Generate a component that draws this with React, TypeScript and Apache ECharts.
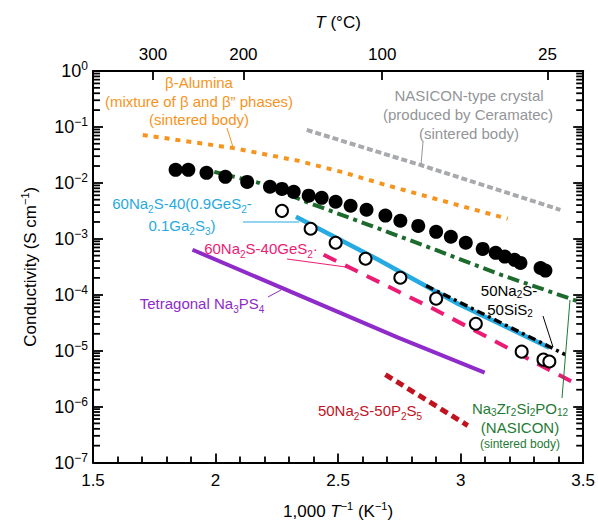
import React, { useEffect, useRef } from 'react';
import * as echarts from 'echarts';

const FONT = '"Liberation Sans", Arial, Helvetica, sans-serif';

const filledX = [1.837, 1.889, 1.963, 2.04, 2.129, 2.222, 2.271, 2.319, 2.38, 2.433, 2.49, 2.551, 2.616, 2.693, 2.754, 2.827, 2.9, 2.96, 3.021, 3.09, 3.143, 3.18, 3.22, 3.244, 3.326, 3.346];
const filledY = [1.71e-2, 1.71e-2, 1.51e-2, 1.28e-2, 1.04e-2, 8.5e-3, 7.8e-3, 6.9e-3, 5.9e-3, 5.4e-3, 4.6e-3, 3.9e-3, 3.3e-3, 2.6e-3, 2.1e-3, 1.7e-3, 1.33e-3, 1.09e-3, 8.5e-4, 6.6e-4, 5.6e-4, 4.8e-4, 4.2e-4, 3.7e-4, 3.0e-4, 2.7e-4];

const openX = [2.271, 2.388, 2.49, 2.612, 2.754, 2.9, 3.062, 3.249, 3.338, 3.362];
const openY = [3.16e-3, 1.51e-3, 8.5e-4, 4.4e-4, 2.01e-4, 8.5e-5, 3.03e-5, 9.6e-6, 6.9e-6, 6.4e-6];

const gaX = [2.328, 2.664, 2.989, 3.362];
const gaY = [2.47e-3, 4.22e-4, 6.9e-5, 1.13e-5];

const sisX = [2.859, 3.427];
const sisY = [1.45e-4, 8.5e-6];

const gesX = [2.441, 2.896, 3.476];
const gesY = [5.18e-4, 5.4e-5, 2.47e-6];

const psX = [1.906, 2.745, 3.098];
const psY = [6.37e-4, 1.71e-5, 4.05e-6];

const p2s5X = [2.693, 3.029];
const p2s5Y = [3.72e-6, 4.58e-7];

const aluX = [1.703, 2.068, 2.34, 2.514, 2.693, 3.058, 3.192];
const aluY = [0.0719, 0.0422, 0.0247, 0.0157, 0.0092, 0.0033, 0.00228];

const ceraX = [2.372, 2.835, 3.407];
const ceraY = [0.0883, 0.0209, 0.0033];

const nasX = [1.995, 2.177, 2.38, 2.624, 2.896, 3.163, 3.484];
const nasY = [0.0157, 0.01, 0.0044, 0.00178, 6.37e-4, 2.28e-4, 7.5e-5];

const xTicks = [1.5, 2, 2.5, 3, 3.5];
const tempTicks = [300, 200, 100, 25];
const yExponents = [-7, -6, -5, -4, -3, -2, -1, 0];
const minorMultipliers = [2, 3, 4, 5, 6, 7, 8, 9];

const zip = (xs: number[], ys: number[]) => xs.map((x, i) => [x, ys[i]]);

const C = {
  orange: '#F7941D',
  gray: '#A7A9AC',
  grayText: '#939598',
  cyan: '#27AAE1',
  magenta: '#EC1C74',
  purple: '#8E2BC9',
  darkred: '#C1121F',
  green: '#1D6B2C',
  greenText: '#1F7A35',
};

function sub(color: string, lh = 22) {
  return {
    n: { fontSize: 15, fontFamily: FONT, color, lineHeight: lh },
    s: { fontSize: 10, fontFamily: FONT, color, verticalAlign: 'bottom', lineHeight: 11 },
  };
}

function txt(text: string, x: number, y: number, color: string, lh = 22) {
  return {
    type: 'text',
    x,
    y,
    style: {
      text,
      fill: color,
      font: `15px ${FONT}`,
      align: 'center',
      verticalAlign: 'middle',
      rich: sub(color, lh),
    },
    z: 100,
  };
}

function lead(x1: number, y1: number, x2: number, y2: number, color: string) {
  return {
    type: 'line',
    shape: { x1, y1, x2, y2 },
    style: { stroke: color, lineWidth: 1 },
    z: 100,
  };
}

function lineSeries(data: any[], color: string, width: number, type: any, z = 2) {
  return {
    type: 'line',
    data,
    showSymbol: false,
    symbol: 'none',
    smooth: false,
    z,
    lineStyle: { color, width, type, cap: 'butt' },
  };
}

const minorVals: number[] = [];
for (const e of yExponents) {
  if (e >= 0) continue;
  for (const k of minorMultipliers) minorVals.push(k * Math.pow(10, e));
}

// minor tick marks for the log axes: 7 px long, drawn just inside each vertical edge
const TICK_HALF = 0.0142; // 3.5 px in x data units
function tickSeries(xCenter: number) {
  return {
    type: 'scatter',
    data: minorVals.map((v) => [xCenter, v]),
    symbol: 'rect',
    symbolSize: [7, 1.8],
    clip: false,
    silent: true,
    z: 20,
    itemStyle: { color: '#000', opacity: 1 },
  };
}

export default function App() {
  const ref = useRef<HTMLDivElement>(null);
  useEffect(() => {
    const chart = echarts.init(ref.current!, null, { renderer: 'svg' });
    const tempPos = tempTicks.map((t) => 1000 / (t + 273.15));
    const supText = (e: number) => (e < 0 ? '−' + String(-e) : String(e));
    const option: any = {
      animation: false,
      backgroundColor: '#fff',
      grid: { left: 93, right: 12, top: 71, bottom: 62, containLabel: false },
      xAxis: [
        {
          type: 'value',
          min: 1.5,
          max: 3.5,
          interval: 0.5,
          position: 'bottom',
          axisLine: { show: true, onZero: false, lineStyle: { color: '#000', width: 2 } },
          axisTick: { show: true, inside: true, length: 9, lineStyle: { color: '#000', width: 1.8 } },
          minorTick: { show: true, splitNumber: 5, length: 6, lineStyle: { color: '#000', width: 1.8 } },
          splitLine: { show: false },
          axisLabel: {
            margin: 9,
            fontSize: 17,
            fontFamily: FONT,
            color: '#000',
            formatter: (v: number) => (xTicks.includes(v) ? String(v) : ''),
          },
          name: '{n|1,000 }{i|T}{sup|−1}{n| (K}{sup|−1}{n|)}',
          nameLocation: 'middle',
          nameGap: 38,
          nameTextStyle: {
            rich: {
              n: { fontSize: 17, fontFamily: FONT, color: '#000', lineHeight: 22 },
              i: { fontSize: 17, fontFamily: FONT, fontStyle: 'italic', color: '#000', lineHeight: 22 },
              sup: { fontSize: 11, fontFamily: FONT, color: '#000', verticalAlign: 'top', lineHeight: 12 },
            },
          },
        },
        {
          type: 'value',
          min: 1.5,
          max: 3.5,
          position: 'top',
          axisLine: { show: true, onZero: false, lineStyle: { color: '#000', width: 2 } },
          axisTick: { show: true, inside: true, length: 9, customValues: tempPos, lineStyle: { color: '#000', width: 1.8 } },
          splitLine: { show: false },
          axisLabel: {
            customValues: tempPos,
            margin: 8,
            fontSize: 17,
            fontFamily: FONT,
            color: '#000',
            formatter: (v: number) => String(Math.round(1000 / v - 273.15)),
          },
          name: '{i|T}{n| (°C)}',
          nameLocation: 'middle',
          nameGap: 40,
          nameTextStyle: {
            rich: {
              n: { fontSize: 17, fontFamily: FONT, color: '#000' },
              i: { fontSize: 17, fontFamily: FONT, fontStyle: 'italic', color: '#000' },
            },
          },
        },
      ],
      yAxis: [
        {
          type: 'log',
          logBase: 10,
          min: 1e-7,
          max: 1,
          position: 'left',
          axisLine: { show: true, onZero: false, lineStyle: { color: '#000', width: 2 } },
          axisTick: { show: true, inside: true, length: 10, lineStyle: { color: '#000', width: 1.8 } },
          splitLine: { show: false },
          axisLabel: {
            margin: 5,
            formatter: (v: number) => {
              const e = Math.round(Math.log10(v));
              if (!yExponents.includes(e)) return '';
              return `{b|10}{sup|${supText(e)}}`;
            },
            rich: {
              b: { fontSize: 18, fontFamily: FONT, color: '#000', lineHeight: 22 },
              sup: { fontSize: 12, fontFamily: FONT, color: '#000', verticalAlign: 'top', lineHeight: 13 },
            },
          },
          name: '{n|Conductivity (S cm}{sup|−1}{n|)}',
          nameLocation: 'middle',
          nameRotate: 90,
          nameGap: 52,
          nameTextStyle: {
            rich: {
              n: { fontSize: 17, fontFamily: FONT, color: '#000', lineHeight: 22 },
              sup: { fontSize: 11, fontFamily: FONT, color: '#000', verticalAlign: 'top', lineHeight: 12 },
            },
          },
        },
        {
          type: 'log',
          logBase: 10,
          min: 1e-7,
          max: 1,
          position: 'right',
          axisLine: { show: true, onZero: false, lineStyle: { color: '#000', width: 2 } },
          axisTick: { show: true, inside: true, length: 10, lineStyle: { color: '#000', width: 1.8 } },
          splitLine: { show: false },
          axisLabel: { show: false },
        },
      ],
      series: [
        tickSeries(1.5 + TICK_HALF),
        tickSeries(3.5 - TICK_HALF),
        lineSeries(zip(aluX, aluY), C.orange, 4, [5, 6]),
        lineSeries(zip(ceraX, ceraY), C.gray, 4, [6, 3]),
        lineSeries(zip(nasX, nasY), C.green, 4, [12, 5, 4, 5]),
        lineSeries(zip(gaX, gaY), C.cyan, 4.5, 'solid'),
        lineSeries(zip(sisX, sisY), '#000', 3.5, [8, 4, 3, 4], 3),
        lineSeries(zip(gesX, gesY), C.magenta, 4, [14, 10]),
        lineSeries(zip(psX, psY), C.purple, 4, 'solid'),
        lineSeries(zip(p2s5X, p2s5Y), C.darkred, 5, [8, 5]),
        {
          type: 'scatter',
          data: zip(filledX, filledY),
          symbol: 'circle',
          symbolSize: 14,
          z: 5,
          itemStyle: { color: '#000', opacity: 1 },
        },
        {
          type: 'scatter',
          data: zip(openX, openY),
          symbol: 'circle',
          symbolSize: 12,
          z: 5,
          itemStyle: { color: '#fff', borderColor: '#000', borderWidth: 2, opacity: 1 },
        },
      ],
      graphic: [
        txt('{n|β-Alumina}', 199, 82, C.orange),
        txt('{n|(mixture of β and β” phases)}', 199, 101, C.orange),
        txt('{n|(sintered body)}', 199, 119, C.orange),
        lead(227, 128, 233, 147, C.orange),

        txt('{n|NASICON-type crystal}', 469, 95, C.grayText),
        txt('{n|(produced by Ceramatec)}', 468, 114, C.grayText),
        txt('{n|(sintered body)}', 469, 133, C.grayText),
        lead(423, 142, 421, 165, C.grayText),

        txt('{n|60Na}{s|2}{n|S-40(0.9GeS}{s|2}{n|-}', 182, 203, C.cyan),
        txt('{n|0.1Ga}{s|2}{n|S}{s|3}{n|)}', 182, 225, C.cyan),
        lead(243, 222, 299, 222, C.cyan),

        txt('{n|60Na}{s|2}{n|S-40GeS}{s|2}{n|·}', 261, 248, C.magenta),
        lead(287, 259, 346, 267, C.magenta),

        txt('{n|Tetragonal Na}{s|3}{n|PS}{s|4}', 202, 303, C.purple),
        lead(268, 297, 281, 290, C.purple),

        txt('{n|50Na}{s|2}{n|S-}', 509, 290, '#000', 18),
        txt('{n|50SiS}{s|2}', 510, 309, '#000', 18),
        lead(543, 316, 553, 347, '#000'),

        txt('{n|50Na}{s|2}{n|S-50P}{s|2}{n|S}{s|5}', 370, 410, C.darkred),

        txt('{n|Na}{s|3}{n|Zr}{s|2}{n|Si}{s|2}{n|PO}{s|12}', 520, 408, C.greenText, 18),
        txt('{n|(NASICON)}', 520, 427, C.greenText, 18),
        {
          type: 'text',
          x: 520,
          y: 444,
          style: { text: '(sintered body)', fill: C.greenText, font: `12px ${FONT}`, align: 'center', verticalAlign: 'middle' },
          z: 100,
        },
        lead(570, 300, 562, 398, C.greenText),
      ],
    };
    chart.setOption(option);
    return () => chart.dispose();
  }, []);
  return (
    <div
      ref={ref}
      style={{ position: 'fixed', left: 0, top: 0, width: 598, height: 525, background: '#fff' }}
    />
  );
}
